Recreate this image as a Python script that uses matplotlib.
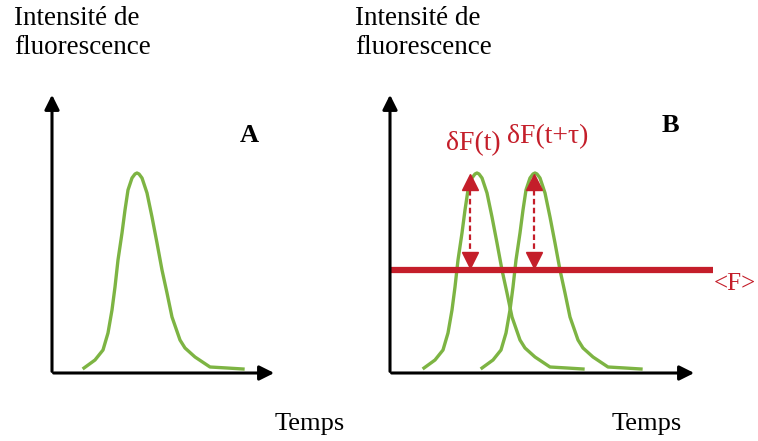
import numpy as np
import matplotlib.pyplot as plt

# Peak profile (offset from peak, height above baseline), in px
profile_dt = [-53, -42, -34, -29, -25, -22, -19, -15, -12, -9, -5, -2, 0, 2, 5, 10, 15,
              20, 25, 30, 35, 43, 48, 58, 73, 90, 106]
profile_h = [5, 13, 23, 40, 63, 86, 113, 140, 163, 183, 195, 199, 200, 199, 195, 180, 156,
             130, 103, 80, 56, 33, 25, 16, 6, 5, 4]

peak_a = 137          # peak position, panel A
peaks_b = [477, 535]  # peak positions, panel B
mean_level = 103      # <F> height above baseline, panel B

axis_label = "Intensité de\nfluorescence"
time_label = "Temps"
delta_labels = ["δF(t)", "δF(t+τ)"]

green = "#7db443"
red = "#c41e2a"
plt.rcParams["font.family"] = ["Liberation Serif", "DejaVu Serif"]

fig = plt.figure(figsize=(7.58, 4.41), dpi=100)
ax = fig.add_axes([0, 0, 1, 1])
ax.set_xlim(0, 758)
ax.set_ylim(441, 0)
ax.axis("off")

base = 373
dt = np.array(profile_dt)
h = np.array(profile_h)


def axes_arrows(x0, x1):
    ax.annotate("", xy=(x0, 92), xytext=(x0, base + 1.2),
                arrowprops=dict(arrowstyle="-|>", lw=2.2, color="black", mutation_scale=22))
    ax.annotate("", xy=(x1, base), xytext=(x0 - 1.2, base),
                arrowprops=dict(arrowstyle="-|>", lw=2.2, color="black", mutation_scale=22))


# Panel A
axes_arrows(52, 277)
ax.plot(peak_a + dt, base - h, color=green, lw=2.4, solid_joinstyle="round")
ax.text(14, 6, axis_label, fontsize=19.5, va="top", ha="left", linespacing=1.2)
ax.text(275, 424, time_label, fontsize=19, va="center", ha="left")
ax.text(249, 135, "A", fontsize=19, fontweight="bold", ha="center", va="center")

# Panel B
axes_arrows(390, 697)
for p in peaks_b:
    ax.plot(p + dt, base - h, color=green, lw=2.4, solid_joinstyle="round")
ax.plot([390, 713], [base - mean_level] * 2, color=red, lw=4.5, solid_capstyle="butt")
ax.text(714, 284, "<F>", fontsize=18, color=red, ha="left", va="center")
ax.text(355, 6, axis_label, fontsize=19.5, va="top", ha="left", linespacing=1.2)
ax.text(612, 424, time_label, fontsize=19, va="center", ha="left")
ax.text(670, 125, "B", fontsize=19, fontweight="bold", ha="center", va="center")

arrow_x = [470, 534]
label_x = [473, 548]
label_y = [144, 137]
for ax_x, lx, ly, lab in zip(arrow_x, label_x, label_y, delta_labels):
    ax.plot([ax_x, ax_x], [190, 255], color=red, lw=1.6, ls=(0, (2.5, 1.5)))
    ax.plot(ax_x, 182, marker="^", color=red, ms=12, mec=red)
    ax.plot(ax_x, 260, marker="v", color=red, ms=12, mec=red)
    ax.text(lx, ly, lab, fontsize=20, color=red, ha="center", va="center")

fig.savefig("out.png", dpi=100)
